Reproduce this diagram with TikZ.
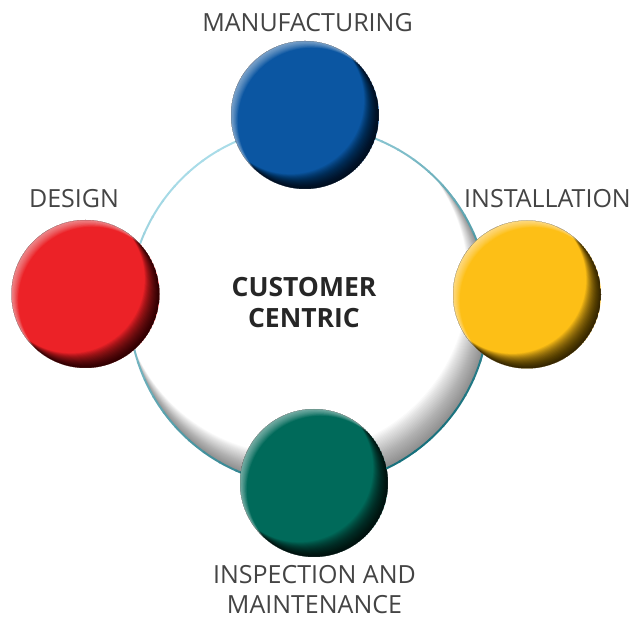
\documentclass[tikz,border=0pt]{standalone}
\usepackage{fontspec}
\setmainfont{Open Sans}
\usepackage{tikz}
\usetikzlibrary{calc}
\definecolor{ballblue}{HTML}{0B56A2}
\definecolor{ballred}{HTML}{EC2227}
\definecolor{ballyellow}{HTML}{FDBF16}
\definecolor{ballgreen}{HTML}{006A5A}
\definecolor{ringlight}{HTML}{A9DCE8}
\definecolor{ringdark}{HTML}{16707C}
\definecolor{labelgray}{HTML}{444444}

\begin{document}
\begin{tikzpicture}[x=1pt,y=1pt,
ball/.style={circle,minimum size=148pt,inner sep=0pt},
stagetext/.style={text=labelgray,font=\fontsize{25}{30}\selectfont,inner sep=0pt},
hubtext/.style={text=black!85,font=\bfseries\fontsize{26.5}{31}\selectfont,align=center,inner sep=0pt}
]
\useasboundingbox (0,0) rectangle (637,621);
\coordinate (hub) at (309,315);
% shadow inside the ring
\begin{scope}
	\clip (hub) circle (180pt);
	\foreach \k in {1,...,30}
	\fill[black,opacity=0.02,even odd rule] (hub) circle (180pt) ($(hub)+(120:{\k})$) circle ({180-0.2*\k});
\end{scope}
\foreach \a [evaluate=\a as \m using {int(50+50*cos(\a+60))}] in {0,6,...,354}
\draw[ringdark!\m!ringlight,line width=2pt] ($(hub)+(\a:180)$) arc (\a:\a+6.5:180pt);
% the four stages
\foreach \nm/\x/\y/\col in {manuf/305/506/ballblue,design/85.5/327/ballred,install/527/326.5/ballyellow,inspect/314/138/ballgreen}{
	\node[ball,fill=\col] (\nm) at (\x,\y) {};
	\begin{scope}
		\clip (\nm.center) circle (74pt);
		\foreach \k in {1,...,30}
		\fill[black,opacity=0.048,even odd rule] (\nm.center) circle (74pt) ($(\nm.center)+(135:{0.7*\k})$) circle (74pt);
		\foreach \k in {1,...,12}
		\fill[white,opacity=0.05,even odd rule] (\nm.center) circle (74pt) ($(\nm.center)+(-45:{0.8*\k})$) circle (74pt);
	\end{scope}
}
\node[stagetext] (manuflabel) at (307.5,598) {MANUFACTURING};
\node[stagetext] (designlabel) at (74,422) {DESIGN};
\node[stagetext] (installlabel) at (547.5,422) {INSTALLATION};
\node[stagetext,align=center] (inspectlabel) at (314.5,31) {INSPECTION AND\\MAINTENANCE};
\node[hubtext] (hubtitle) at (304,318.5) {CUSTOMER\\CENTRIC};
\end{tikzpicture}
\end{document}
